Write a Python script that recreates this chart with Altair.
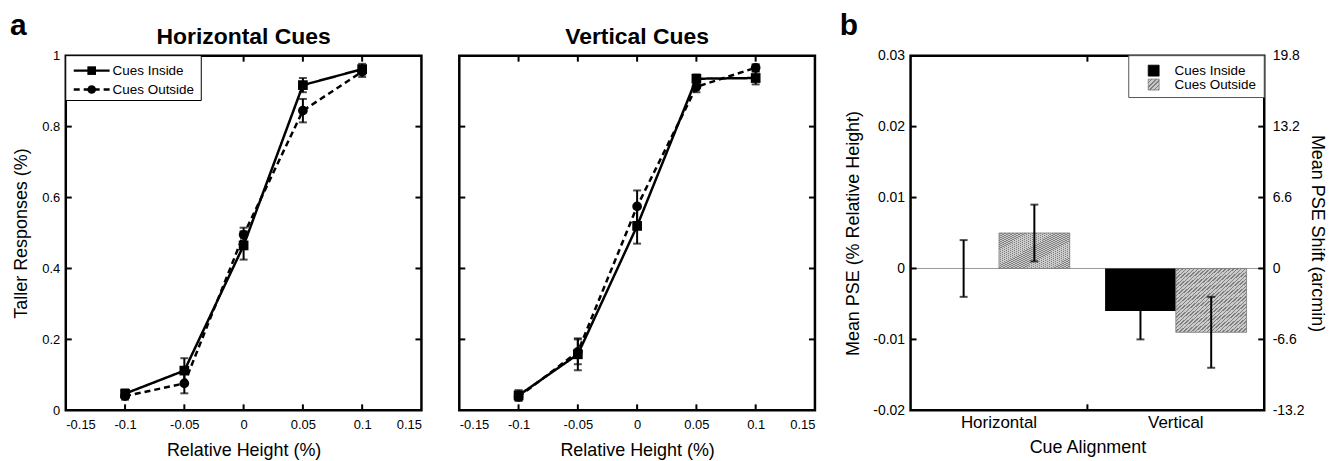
import altair as alt
import pandas as pd

FONT = "Liberation Sans"

# ---------------- data ----------------
rel_height = [-0.1, -0.05, 0, 0.05, 0.1]
series = ["Cues Inside", "Cues Outside"]

h_inside = [0.047, 0.112, 0.465, 0.917, 0.962]
h_inside_err = [0.012, 0.035, 0.04, 0.02, 0.015]
h_outside = [0.040, 0.076, 0.495, 0.845, 0.955]
h_outside_err = [0.010, 0.028, 0.02, 0.033, 0.015]

v_inside = [0.042, 0.158, 0.520, 0.935, 0.937]
v_inside_err = [0.015, 0.045, 0.05, 0.012, 0.018]
v_outside = [0.038, 0.165, 0.575, 0.912, 0.966]
v_outside_err = [0.010, 0.035, 0.045, 0.015, 0.010]

alignments = ["Horizontal", "Vertical"]
pse_inside = [0.0, -0.006]
pse_inside_err = [0.004, 0.004]
pse_outside = [0.005, -0.009]
pse_outside_err = [0.004, 0.005]

x_ticks = [-0.15, -0.1, -0.05, 0, 0.05, 0.1, 0.15]
x_inner = [-0.1, -0.05, 0, 0.05, 0.1]
y_ticks = [0, 0.2, 0.4, 0.6, 0.8, 1]
y_inner = [0.2, 0.4, 0.6, 0.8]
pse_ticks = [-0.02, -0.01, 0, 0.01, 0.02, 0.03]
pse_inner = [-0.01, 0, 0.01, 0.02]
arcmin_ticks = [-13.2, -6.6, 0, 6.6, 13.2, 19.8]
arcmin_inner = [-6.6, 0, 6.6, 13.2]

W, H = 357, 356
WB = 355
TL = 6
TITLE_FS = 18

dash_range = [[1, 0], [6, 4]]


def hatch(n, light="#cbcbcb", dark="#808080"):
    stops = []
    for k in range(n):
        a = k / n
        b = (k + 0.62) / n
        c = (k + 1) / n
        stops += [alt.GradientStop(offset=a, color=light), alt.GradientStop(offset=b, color=light),
                  alt.GradientStop(offset=b, color=dark), alt.GradientStop(offset=c, color=dark)]
    return alt.LinearGradient(gradient="linear", x1=0, y1=0, x2=1, y2=1, stops=stops)


def text_layer(txt, dx, dy, size, align="left"):
    return alt.Chart(pd.DataFrame({"s": [txt]})).mark_text(
        align=align, baseline="alphabetic", font=FONT, fontSize=size, fontWeight="bold",
        color="black").encode(x=alt.value(dx), y=alt.value(dy), text="s:N")


def psych_panel(title, inside, inside_err, outside, outside_err, show_y, letter):
    df = pd.DataFrame({
        "x": rel_height * 2,
        "y": inside + outside,
        "err": inside_err + outside_err,
        "series": [series[0]] * 5 + [series[1]] * 5,
    })
    df["lo"] = df["y"] - df["err"]
    df["hi"] = df["y"] + df["err"]

    xs = alt.Scale(domain=[-0.15, 0.15], nice=False, zero=False)
    ys = alt.Scale(domain=[0, 1], nice=False, zero=False)
    xaxis = alt.Axis(values=x_ticks, labelExpr="'' + datum.value", ticks=False,
                     domain=False, grid=False, labelPadding=8, titlePadding=10,
                     title="Relative Height (%)")
    if show_y:
        yaxis = alt.Axis(values=y_ticks, labelExpr="'' + datum.value", ticks=False,
                         domain=False, grid=False, labelPadding=6, titlePadding=11,
                         title="Taller Responses (%)")
    else:
        yaxis = None

    def X(f):
        return alt.X(f, type="quantitative", scale=xs, axis=xaxis)

    def Y(f):
        return alt.Y(f, type="quantitative", scale=ys, axis=yaxis)

    base = alt.Chart(df)
    dash = alt.StrokeDash("series:N", scale=alt.Scale(domain=series, range=dash_range), legend=None)
    lines = base.mark_line(color="black", strokeWidth=2.5).encode(
        x=X("x"), y=Y("y"), strokeDash=dash, detail="series:N")
    err = base.mark_rule(color="black", strokeWidth=2).encode(x=X("x"), y=Y("lo"), y2="hi")
    cap_lo = base.mark_tick(color="black", orient="horizontal", size=8, thickness=2).encode(
        x=X("x"), y=Y("lo"))
    cap_hi = base.mark_tick(color="black", orient="horizontal", size=8, thickness=2).encode(
        x=X("x"), y=Y("hi"))
    pts = base.mark_point(filled=True, color="black", opacity=1, size=95).encode(
        x=X("x"), y=Y("y"),
        shape=alt.Shape("series:N", scale=alt.Scale(domain=series, range=["square", "circle"]), legend=None))

    txd = alt.Chart(pd.DataFrame({"t": x_inner}))
    tyd = alt.Chart(pd.DataFrame({"t": y_inner}))
    tick_b = txd.mark_rule(color="black", strokeWidth=2).encode(x=X("t"), y=alt.value(H), y2=alt.value(H - TL))
    tick_t = txd.mark_rule(color="black", strokeWidth=2).encode(x=X("t"), y=alt.value(0), y2=alt.value(TL))
    tick_l = tyd.mark_rule(color="black", strokeWidth=2).encode(y=Y("t"), x=alt.value(0), x2=alt.value(TL))
    tick_r = tyd.mark_rule(color="black", strokeWidth=2).encode(y=Y("t"), x=alt.value(W - TL), x2=alt.value(W))

    layers = [tick_b, tick_t, tick_l, tick_r, lines, err, cap_lo, cap_hi, pts]

    if show_y:
        box = alt.Chart(pd.DataFrame({"s": ["legend"]})).mark_rect(
            fill="white", stroke="black", strokeWidth=1).encode(
            x=alt.value(0), x2=alt.value(136), y=alt.value(0), y2=alt.value(45))
        layers.append(box)
        for i, s in enumerate(series):
            ld = alt.Chart(pd.DataFrame({"s": [s]}))
            yy = 15 + 19 * i
            layers.append(ld.mark_rule(color="black", strokeWidth=2.5, strokeDash=dash_range[i]).encode(
                x=alt.value(8), x2=alt.value(44), y=alt.value(yy)))
            layers.append(ld.mark_point(filled=True, color="black", opacity=1, size=75,
                                        shape=["square", "circle"][i]).encode(
                x=alt.value(26), y=alt.value(yy)))
            layers.append(ld.mark_text(align="left", baseline="middle", font=FONT, fontSize=13.5,
                                       color="black").encode(
                x=alt.value(47), y=alt.value(yy), text="s:N"))

    layers.append(text_layer(title, W / 2, -12, 23, align="center"))
    if letter:
        layers.append(text_layer(letter, -56, -21, 30))

    return alt.layer(*layers).properties(width=W, height=H)


p1 = psych_panel("Horizontal Cues", h_inside, h_inside_err, h_outside, h_outside_err, True, "a")
p2 = psych_panel("Vertical Cues", v_inside, v_inside_err, v_outside, v_outside_err, False, None)

# ---------------- panel b ----------------
bdf = pd.DataFrame({
    "align": alignments * 2,
    "series": [series[0]] * 2 + [series[1]] * 2,
    "v": pse_inside + pse_outside,
    "err": pse_inside_err + pse_outside_err,
})
bdf["lo"] = bdf["v"] - bdf["err"]
bdf["hi"] = bdf["v"] + bdf["err"]

bxs = alt.Scale(domain=alignments, paddingInner=0.2, paddingOuter=0.1)
bys = alt.Scale(domain=[-0.02, 0.03], nice=False, zero=False)
bxaxis = alt.Axis(title="Cue Alignment", labelAngle=0, ticks=False, domain=False, grid=False,
                  labelPadding=4, titlePadding=8, labelFontSize=17)
byaxis = alt.Axis(values=pse_ticks, labelExpr="'' + datum.value", ticks=False, domain=False,
                  grid=False, labelPadding=6, titlePadding=10, labelFontSize=14,
                  title="Mean PSE (% Relative Height)")
xoff = alt.XOffset("series:N", scale=alt.Scale(domain=series, paddingInner=0, paddingOuter=0))


def BX():
    return alt.X("align:N", scale=bxs, axis=bxaxis)


def BY(f):
    return alt.Y(f, type="quantitative", scale=bys, axis=byaxis)


bb = alt.Chart(bdf)
zero = alt.Chart(pd.DataFrame({"z": [0]})).mark_rule(color="#999999", strokeWidth=1).encode(y=BY("z"))
bars_in = bb.transform_filter(alt.datum.series == series[0]).mark_bar(
    fill="#000000").encode(x=BX(), xOffset=xoff, y=BY("v"))
bars_out = bb.transform_filter(alt.datum.series == series[1]).mark_bar(
    fill=hatch(36), stroke="#7a7a7a", strokeWidth=0.8).encode(x=BX(), xOffset=xoff, y=BY("v"))
berr = bb.mark_rule(color="black", strokeWidth=2).encode(x=BX(), xOffset=xoff, y=BY("lo"), y2="hi")
bcap_lo = bb.mark_tick(color="black", orient="horizontal", size=8, thickness=2).encode(
    x=BX(), xOffset=xoff, y=BY("lo"))
bcap_hi = bb.mark_tick(color="black", orient="horizontal", size=8, thickness=2).encode(
    x=BX(), xOffset=xoff, y=BY("hi"))

one = alt.Chart(pd.DataFrame({"s": ["mid"]}))
mid_b = one.mark_rule(color="black", strokeWidth=2).encode(x=alt.value(WB / 2), y=alt.value(H), y2=alt.value(H - TL))
mid_t = one.mark_rule(color="black", strokeWidth=2).encode(x=alt.value(WB / 2), y=alt.value(0), y2=alt.value(TL))
bl = alt.Chart(pd.DataFrame({"t": pse_inner})).mark_rule(color="black", strokeWidth=2).encode(
    y=BY("t"), x=alt.value(0), x2=alt.value(TL))

bbox = alt.Chart(pd.DataFrame({"s": ["legend"]})).mark_rect(
    fill="white", stroke="#555555", strokeWidth=1).encode(
    x=alt.value(219), x2=alt.value(WB), y=alt.value(0), y2=alt.value(42))
blegend = [bbox]
leg_fill = ["#000000", hatch(5)]
leg_stroke = ["#000000", "#7a7a7a"]
for i, s in enumerate(series):
    ld = alt.Chart(pd.DataFrame({"s": [s]}))
    yy = 15 + 14 * i
    blegend.append(ld.mark_square(size=120, opacity=1, fill=leg_fill[i],
                                  stroke=leg_stroke[i], strokeWidth=0.8).encode(
        x=alt.value(244), y=alt.value(yy)))
    blegend.append(ld.mark_text(align="left", baseline="middle", font=FONT, fontSize=13.5,
                                color="black").encode(x=alt.value(265), y=alt.value(yy), text="s:N"))

left = alt.layer(zero, bars_in, bars_out, berr, bcap_lo, bcap_hi, mid_b, mid_t, bl, *blegend,
                 text_layer("b", -71, -21, 30))

right = alt.Chart(pd.DataFrame({"t": arcmin_inner})).mark_rule(color="black", strokeWidth=2).encode(
    y=alt.Y("t:Q", scale=alt.Scale(domain=[-13.2, 19.8], nice=False, zero=False),
            axis=alt.Axis(orient="right", values=arcmin_ticks, labelExpr="'' + datum.value",
                          ticks=False, domain=False, grid=False, labelPadding=8, titlePadding=4,
                          labelFontSize=14, title="Mean PSE Shift (arcmin)")),
    x=alt.value(WB - TL), x2=alt.value(WB))

p3 = alt.layer(left, right).resolve_scale(y="independent").properties(width=WB, height=H)

spacer = alt.Chart(pd.DataFrame({"s": [0]})).mark_point(opacity=0).encode(
    x=alt.value(0), y=alt.value(0)).properties(
    width=20, height=H, view=alt.ViewBackground(strokeOpacity=0))

chart = alt.hconcat(p1, p2, spacer, p3, spacing=38, bounds="flush").properties(
    padding=0
).configure_view(
    stroke="black", strokeWidth=2.5
).configure_axis(
    labelFont=FONT, titleFont=FONT, labelFontSize=13, titleFontSize=TITLE_FS,
    titleFontWeight="normal", labelColor="black", titleColor="black"
)

chart.save("out.html", embed_options={"renderer": "svg", "actions": False})
